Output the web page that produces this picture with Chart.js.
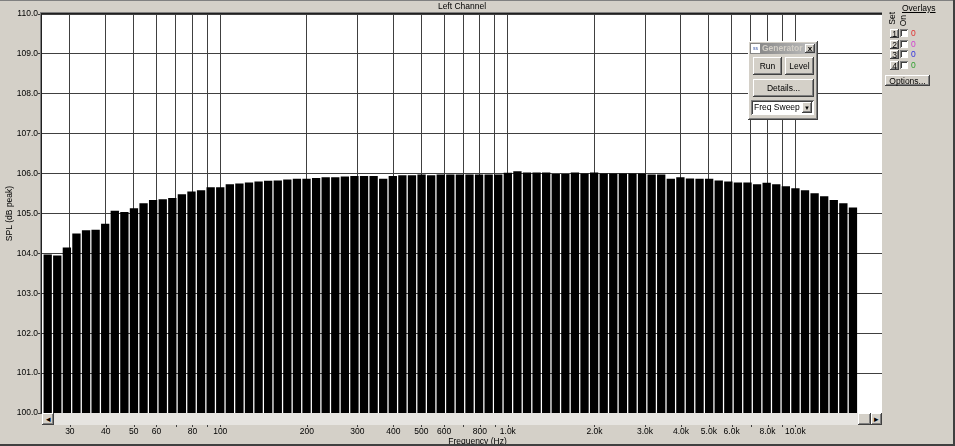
<!DOCTYPE html>
<html>
<head>
<meta charset="utf-8">
<script src="https://cdn.jsdelivr.net/npm/chart.js@4/dist/chart.umd.min.js"></script>
<style>
body { margin: 0; background: #d4d0c8; overflow: hidden; }
#wrap { position: relative; width: 955px; height: 446px; background: #d4d0c8; font-family: 'Liberation Sans', Arial, sans-serif; font-size: 8.5px; color: #000; }
#spl { position: absolute; left: 0; top: 0; }
.abs { position: absolute; box-sizing: border-box; }
.btn { position: absolute; box-sizing: border-box; background: #d4d0c8;
  box-shadow: inset -1px -1px #404040, inset 1px 1px #fff, inset -2px -2px #808080;
  display: flex; align-items: center; justify-content: center; font-size: 8.5px; }
.chk { position: absolute; box-sizing: border-box; background: #fff;
  box-shadow: inset 1px 1px #808080, inset -1px -1px #fff, inset 2px 2px #404040; }
.vtxt { position: absolute; writing-mode: vertical-rl; transform: rotate(180deg); font-size: 8.5px; }
</style>
</head>
<body>
<div id="wrap">
  <canvas id="spl" width="955" height="446"></canvas>

  <!-- scrollbar under the plot -->
  <div class="abs" style="left:42px;top:413px;width:840px;height:12px;background:#e6e4e0;"></div>
  <div class="btn" style="left:42px;top:413px;width:12px;height:12px;">&#9666;</div>
  <div class="btn" style="left:858px;top:413px;width:13px;height:12px;"></div>
  <div class="btn" style="left:871px;top:413px;width:11px;height:12px;">&#9656;</div>

  <div class="abs" style="left:0;top:436px;width:955px;text-align:center;font-size:8.5px;">Frequency (Hz)</div>

  <!-- overlays panel -->
  <div class="abs" style="left:902px;top:3px;text-decoration:underline;">Overlays</div>
  <div class="vtxt" style="left:887px;top:12px;">Set</div>
  <div class="vtxt" style="left:898px;top:15px;">On</div>
  <div class="btn" style="left:890px;top:29px;width:9px;height:9px;">1</div>
  <div class="chk" style="left:900px;top:29px;width:8px;height:8px;"></div>
  <div class="abs" style="left:911px;top:28px;color:#e03030;">0</div>
  <div class="btn" style="left:890px;top:40px;width:9px;height:9px;">2</div>
  <div class="chk" style="left:900px;top:40px;width:8px;height:8px;"></div>
  <div class="abs" style="left:911px;top:39px;color:#d040d0;">0</div>
  <div class="btn" style="left:890px;top:50px;width:9px;height:9px;">3</div>
  <div class="chk" style="left:900px;top:50px;width:8px;height:8px;"></div>
  <div class="abs" style="left:911px;top:49px;color:#3030e0;">0</div>
  <div class="btn" style="left:890px;top:61px;width:9px;height:9px;">4</div>
  <div class="chk" style="left:900px;top:61px;width:8px;height:8px;"></div>
  <div class="abs" style="left:911px;top:60px;color:#30a030;">0</div>
  <div class="btn" style="left:885px;top:75px;width:45px;height:11px;">Options...</div>

  <!-- generator window -->
  <div class="btn" style="left:748px;top:41px;width:70px;height:79px;"></div>
  <div class="abs" style="left:750px;top:43px;width:66px;height:11px;background:linear-gradient(to right,#808080,#c0c0c0);"></div>
  <div class="abs" style="left:751px;top:44px;width:9px;height:9px;background:#fff;font-size:5px;color:#3050a0;line-height:9px;text-align:center;">ss</div>
  <div class="abs" style="left:762px;top:43px;height:11px;line-height:11px;color:#d4d0c8;font-weight:bold;">Generator</div>
  <div class="btn" style="left:805px;top:44px;width:10px;height:9px;font-weight:bold;font-size:8px;">x</div>
  <div class="btn" style="left:753px;top:57px;width:29px;height:18px;">Run</div>
  <div class="btn" style="left:785px;top:57px;width:29px;height:18px;">Level</div>
  <div class="btn" style="left:753px;top:79px;width:61px;height:18px;">Details...</div>
  <div class="chk" style="left:751px;top:100px;width:63px;height:15px;"></div>
  <div class="abs" style="left:754px;top:100px;height:15px;line-height:15px;">Freq Sweep</div>
  <div class="btn" style="left:802px;top:102px;width:10px;height:11px;font-size:6px;">&#9660;</div>

  <div class="abs" style="left:0;top:0;width:955px;height:1px;background:#808080;"></div>
  <div class="abs" style="left:953px;top:0;width:2px;height:446px;background:#404040;"></div>
  <div class="abs" style="left:0;top:444px;width:955px;height:2px;background:#404040;"></div>
</div>

<script>
// 1/30 decade bands, Hz
var freqs = [25.12, 27.12, 29.29, 31.62, 34.15, 36.87, 39.81, 42.99, 46.42, 50.12,
  54.12, 58.43, 63.10, 68.13, 73.56, 79.43, 85.77, 92.61,
  100.0, 107.98, 116.59, 125.89, 135.94, 146.78, 158.49, 171.13, 184.78, 199.53,
  215.44, 232.63, 251.19, 271.23, 292.86, 316.23, 341.45, 368.69, 398.11, 429.87,
  464.16, 501.19, 541.17, 584.34, 630.96, 681.29, 735.64, 794.33, 857.70, 926.11,
  1000, 1079.8, 1165.9, 1258.9, 1359.4, 1467.8, 1584.9, 1711.3, 1847.8, 1995.3,
  2154.4, 2326.3, 2511.9, 2712.3, 2928.6, 3162.3, 3414.5, 3686.9, 3981.1, 4298.7,
  4641.6, 5011.9, 5411.7, 5843.4, 6309.6, 6812.9, 7356.4, 7943.3, 8577.0, 9261.1,
  10000, 10798, 11659, 12589, 13594, 14678, 15849];

// SPL, dB peak
var spl = [103.97, 103.95, 104.15, 104.50, 104.58, 104.59, 104.74, 105.07, 105.04, 105.13,
  105.26, 105.34, 105.36, 105.39, 105.48, 105.55, 105.58, 105.66, 105.66, 105.73,
  105.75, 105.78, 105.80, 105.82, 105.83, 105.85, 105.87, 105.87, 105.89, 105.91,
  105.91, 105.93, 105.94, 105.94, 105.94, 105.87, 105.94, 105.96, 105.96, 105.98,
  105.96, 105.98, 105.98, 105.98, 105.98, 105.98, 105.98, 105.98, 106.02, 106.06,
  106.03, 106.03, 106.03, 105.99, 105.99, 106.03, 106.00, 106.03, 106.00, 106.00,
  106.00, 106.00, 106.00, 105.98, 105.98, 105.87, 105.91, 105.88, 105.87, 105.87,
  105.83, 105.80, 105.78, 105.78, 105.73, 105.77, 105.73, 105.68, 105.63, 105.58,
  105.51, 105.43, 105.34, 105.26, 105.15];

var tickFreqs = [30, 40, 50, 60, 70, 80, 90, 100, 200, 300, 400, 500, 600, 700, 800, 900,
  1000, 2000, 3000, 4000, 5000, 6000, 7000, 8000, 9000, 10000];
var tickLabels = ['30', '40', '50', '60', '', '80', '', '100', '200', '300', '400', '500', '600', '', '800', '',
  '1.0k', '2.0k', '3.0k', '4.0k', '5.0k', '6.0k', '', '8.0k', '', '10.0k'];

var fnt = { family: "'Liberation Sans', Arial, sans-serif", size: 8.5 };

// white plot background, frame, small tick marks under the scrollbar
var frame = {
    id: 'frame',
    beforeDraw: function (chart) {
        var c = chart.ctx, a = chart.chartArea;
        c.save();
        c.fillStyle = '#fff';
        c.fillRect(a.left, a.top, a.right - a.left, a.bottom - a.top);
        c.restore();
    },
    afterDraw: function (chart) {
        var c = chart.ctx, a = chart.chartArea, xs = chart.scales.x;
        c.save();
        c.fillStyle = '#808080';
        c.fillRect(a.left - 2, a.top - 2, a.right - a.left + 2, 1);
        c.fillRect(a.left - 2, a.top - 2, 1, a.bottom - a.top + 2);
        c.fillStyle = '#202020';
        c.fillRect(a.left - 1, a.top - 1, a.right - a.left + 1, 1);
        c.fillRect(a.left - 1, a.top - 1, 1, a.bottom - a.top + 1);
        c.fillStyle = '#404040';
        tickFreqs.forEach(function (f) {
            var px = Math.round(xs.getPixelForValue(f));
            c.fillRect(px, a.bottom + 12, 1, 2);
        });
        c.restore();
    }
};

new Chart(document.getElementById('spl'), {
    type: 'bar',
    data: {
        datasets: [{
            data: freqs.map(function (f, i) { return { x: f, y: spl[i] }; }),
            backgroundColor: '#000',
            borderWidth: 0,
            barPercentage: 0.87,
            categoryPercentage: 1
        }]
    },
    options: {
        responsive: false,
        animation: false,
        layout: { padding: { top: 0, right: 73, left: 0, bottom: 0 } },
        plugins: {
            legend: { display: false },
            tooltip: { enabled: false },
            title: {
                display: true, text: 'Left Channel', fullSize: false, color: '#000',
                font: { family: fnt.family, size: 8.5, weight: 'normal', lineHeight: 1 },
                padding: { top: 2, bottom: 3.5 }
            }
        },
        scales: {
            x: {
                type: 'logarithmic', min: 24, max: 20000, bounds: 'data', offset: false,
                afterBuildTicks: function (s) { s.ticks = tickFreqs.map(function (v) { return { value: v }; }); },
                afterFit: function (s) { s.height = 33; },
                ticks: {
                    autoSkip: false, maxRotation: 0, padding: 14, color: '#000', font: fnt,
                    callback: function (v, i) { return tickLabels[i]; }
                },
                grid: { color: '#404040', lineWidth: 1, drawTicks: false, offset: false },
                border: { display: false }
            },
            y: {
                min: 100, max: 110,
                afterFit: function (s) { s.width = 42; },
                ticks: { stepSize: 1, padding: 0, color: '#000', font: fnt,
                    callback: function (v) { return v.toFixed(1); } },
                grid: { color: '#404040', lineWidth: 1, tickLength: 4 },
                border: { display: false },
                title: { display: true, text: 'SPL (dB peak)', color: '#000', font: fnt, padding: { top: 5, bottom: 0 } }
            }
        }
    },
    plugins: [frame]
});
</script>
</body>
</html>
